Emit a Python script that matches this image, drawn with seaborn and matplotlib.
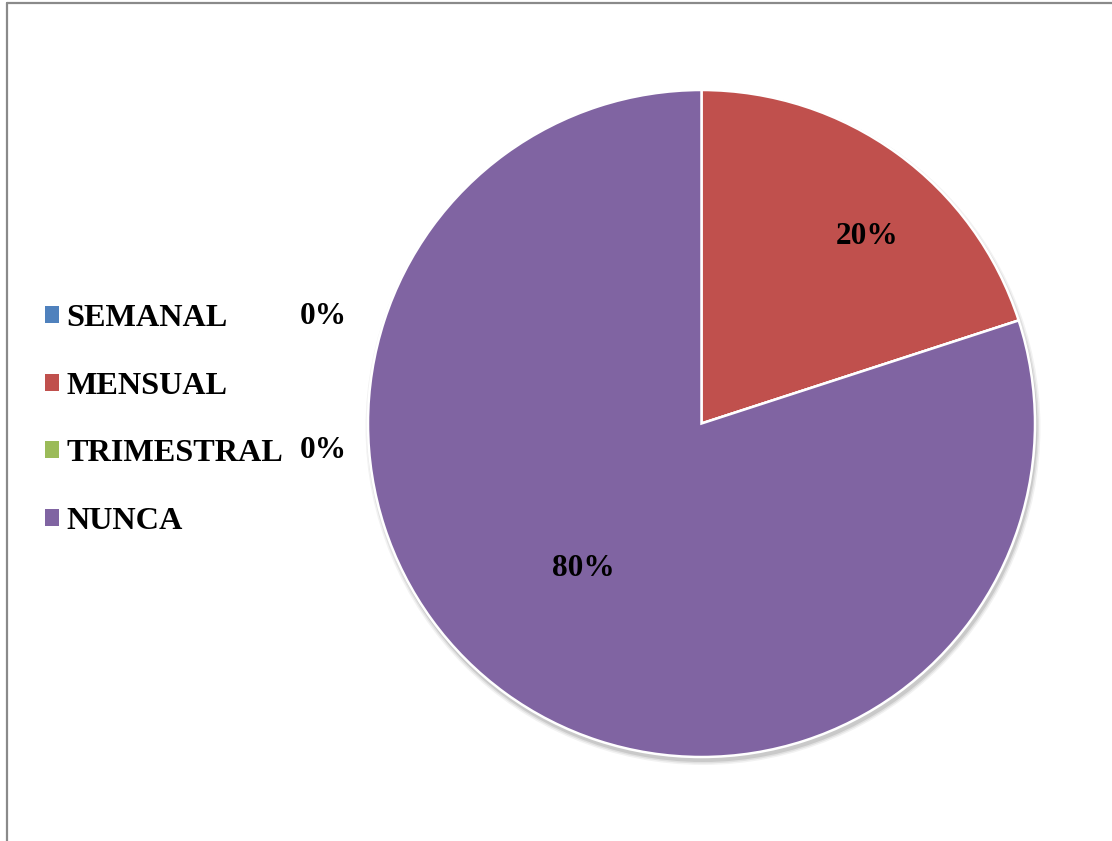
import matplotlib
matplotlib.use("Agg")
import matplotlib.pyplot as plt
from matplotlib.patches import Circle, Patch
from matplotlib.lines import Line2D
import seaborn as sns

# Survey answers: how often the activity is done
categories = ["SEMANAL", "MENSUAL", "TRIMESTRAL", "NUNCA"]
percentages = [0, 20, 0, 80]
colors = ["#4F81BD", "#C0504D", "#9BBB59", "#8064A2"]

# Where each percentage label sits (pixel positions on the canvas)
label_px = [(323, 316), (867, 236), (323, 450), (583, 568)]

sns.set_theme(style="white")
plt.rcParams["font.family"] = ["Liberation Serif", "DejaVu Serif"]
plt.rcParams["font.weight"] = "bold"

W, H = 1112, 841
fig = plt.figure(figsize=(W / 100, H / 100), dpi=100)
fig.patch.set_facecolor("white")
ax = fig.add_axes([0, 0, 1, 1])
ax.set_xlim(0, W)
ax.set_ylim(0, H)
ax.set_aspect("equal")
ax.axis("off")

cx, cy, r = 701.5, H - 423.5, 333.5

# soft drop shadow under the pie
for i, a in enumerate([0.05, 0.07, 0.10]):
    ax.add_patch(Circle((cx + 1.5, cy - 4), r + 4 - i * 1.5, color="black",
                        alpha=a, lw=0, zorder=1))

wedges, _ = ax.pie(percentages, colors=colors, startangle=90, counterclock=False,
                   center=(cx, cy), radius=r, frame=True,
                   wedgeprops=dict(edgecolor="white", linewidth=1.8))
for w in wedges:
    w.set_zorder(2)
ax.set_xlim(0, W)
ax.set_ylim(0, H)
ax.axis("off")

for (px, py), v in zip(label_px, percentages):
    ax.text(px, H - py, f"{v:.0f}%", ha="center", va="center",
            fontsize=22.5, fontweight="bold", color="black", zorder=3)

handles = [Patch(facecolor=c, edgecolor="none") for c in colors]
leg = ax.legend(handles, categories, loc="center left",
                bbox_to_anchor=(45 / W, 1 - 420 / H), bbox_transform=fig.transFigure,
                frameon=False, borderpad=0, borderaxespad=0,
                handlelength=0.42, handleheight=0.42,
                handletextpad=0.25, labelspacing=1.2, labelcolor="black",
                prop=dict(family="Liberation Serif", weight="bold", size=23.2))

# outer chart frame
fig.add_artist(Line2D([7 / W, 7 / W], [0, 1 - 3 / H], color="#8a8a8a", lw=1.6,
                      transform=fig.transFigure))
fig.add_artist(Line2D([7 / W, 1], [1 - 3 / H, 1 - 3 / H], color="#8a8a8a", lw=1.6,
                      transform=fig.transFigure))

fig.savefig("out.png", dpi=100, facecolor="white")
